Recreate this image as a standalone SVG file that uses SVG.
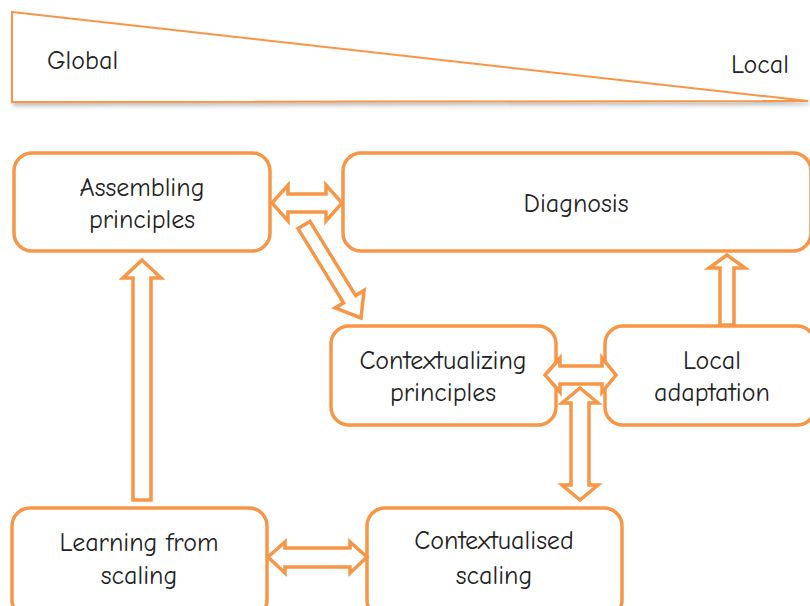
<svg xmlns="http://www.w3.org/2000/svg" width="810" height="606" viewBox="0 0 810 606">
<defs>
<filter id="sh" x="-5%" y="-20%" width="110%" height="150%">
<feDropShadow dx="2" dy="3" stdDeviation="2" flood-color="#000" flood-opacity="0.25"/>
</filter>
<style>
.box{fill:#fff;stroke:#F79646;stroke-width:3.5}
.arr{fill:#fff;stroke:#F79646;stroke-width:3.5;stroke-linejoin:miter}
.t{font-family:"Comic Sans MS","Comic Neue","Open Sans","DejaVu Sans",sans-serif;font-size:26px;fill:#222;text-anchor:middle}
</style>
</defs>
<rect width="810" height="606" fill="#fff"/>
<g id="scale">
<polygon points="12,12 808,101 12,102" fill="#fff" stroke="#F79646" stroke-width="2" filter="url(#sh)"/>
<text class="t" x="47" y="69" style="text-anchor:start">Global</text>
<text class="t" x="731" y="73" style="text-anchor:start">Local</text>
</g>
<g id="assembling">
<rect class="box" x="14" y="153" width="256" height="98" rx="18"/>
<text class="t" x="142" y="196">Assembling</text>
<text class="t" x="142" y="228">principles</text>
</g>
<g id="diagnosis">
<rect class="box" x="343" y="153" width="468" height="98" rx="18"/>
<text class="t" x="576" y="212">Diagnosis</text>
</g>
<g id="contextualizing">
<rect class="box" x="331" y="326" width="225" height="99" rx="18"/>
<text class="t" x="443" y="369">Contextualizing</text>
<text class="t" x="443" y="401">principles</text>
</g>
<g id="local-adaptation">
<rect class="box" x="605" y="326" width="210" height="99" rx="18"/>
<text class="t" x="712" y="369">Local</text>
<text class="t" x="712" y="401">adaptation</text>
</g>
<g id="learning">
<rect class="box" x="12" y="508" width="255" height="110" rx="18"/>
<text class="t" x="139" y="551">Learning from</text>
<text class="t" x="139" y="584">scaling</text>
</g>
<g id="contextualised">
<rect class="box" x="367" y="508" width="255" height="110" rx="18"/>
<text class="t" x="494" y="549">Contextualised</text>
<text class="t" x="494" y="584">scaling</text>
</g>
<g id="connectors">
<polygon class="arr" points="272,203 288,185 288,194 326,194 326,185 342,203 326,221 326,212 288,212 288,221"/>
<polygon class="arr" points="298,228.6 310,221.4 355.6,295.6 364.1,290.4 361,318 335.1,308 343.6,302.8"/>
<polygon class="arr" points="545,375 560,358 560,366 602,366 602,358 616,375 602,392 602,384 560,384 560,392"/>
<polygon class="arr" points="580,388 598,403 589,403 589,485 598,485 580,500 562,485 571,485 571,403 562,403"/>
<polygon class="arr" points="727,255 745,268 734,268 734,325 720,325 720,268 709,268"/>
<polygon class="arr" points="142,260 161,278 151,278 151,500 133,500 133,278 123,278"/>
<polygon class="arr" points="268,557 285,542 285,548 350,548 350,542 367,557 350,573 350,567 285,567 285,573"/>
</g>
</svg>
